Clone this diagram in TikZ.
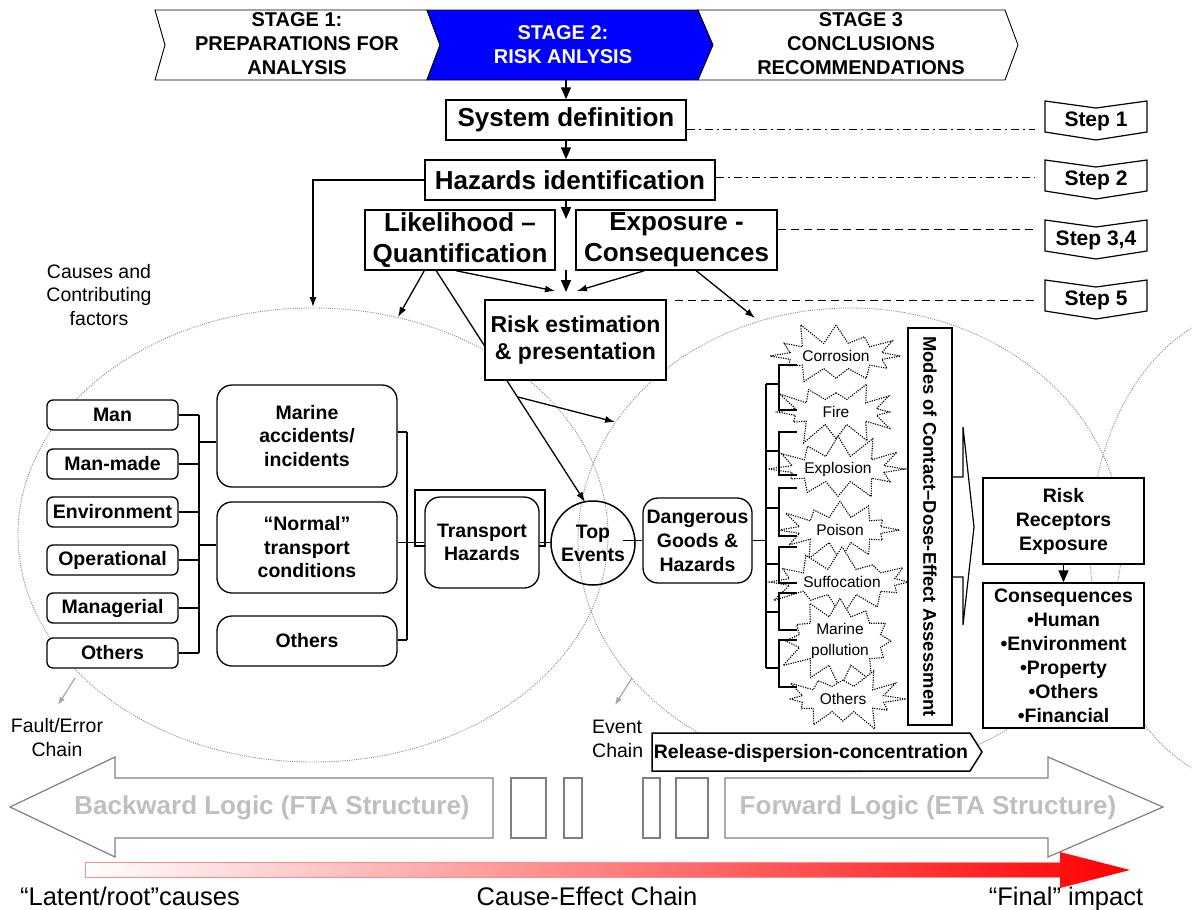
\documentclass[tikz,border=0pt]{standalone}
\usepackage{fontspec}
\setmainfont{Liberation Sans}
\usetikzlibrary{shapes.symbols,arrows.meta}
\begin{document}
\begin{tikzpicture}[x=1pt,y=-1pt,
 every node/.style={inner sep=0pt},
 stg/.style={draw, line width=0.9pt, fill=white},
 stgt/.style={font=\bfseries\fontsize{20}{24}\selectfont, align=center},
 bx/.style={draw, line width=1.5pt, fill=white, align=center, font=\bfseries\fontsize{26}{31}\selectfont},
 sbx/.style={draw, line width=1.3pt, fill=white, rounded corners=6pt, minimum width=131pt, minimum height=30pt, font=\bfseries\fontsize{19.5}{24}\selectfont},
 rbx/.style={draw, line width=1.3pt, fill=white, rounded corners=15pt, align=center, font=\bfseries\fontsize{19.5}{23.5}\selectfont},
 sqb/.style={draw, line width=1.5pt, fill=white, align=center, font=\bfseries\fontsize{19.5}{24}\selectfont},
 ln/.style={line width=1.2pt},
 marr/.style={line width=1.5pt, -{Triangle[length=12pt,width=10pt]}},
 arr/.style={line width=1.3pt, -{Latex[length=10pt,width=7pt]}},
 garr/.style={line width=1.2pt, black!35, -{Latex[length=8pt,width=6pt]}},
 ell/.style={black!45, line width=0.9pt, dash pattern=on 1pt off 1.2pt},
 stepshape/.style={draw, line width=1.2pt, fill=white},
 stept/.style={font=\bfseries\fontsize{21}{25}\selectfont},
 dd/.style={line width=1pt, dash pattern=on 8pt off 4pt on 2pt off 4pt},
 dsh/.style={line width=1pt, dash pattern=on 8pt off 5pt},
 star/.style={starburst, starburst points=12, starburst point height=24pt, draw, line width=1.1pt, dash pattern=on 1.2pt off 1.2pt, fill=white, minimum width=132pt, minimum height=74pt, align=center, font=\fontsize{15.5}{21}\selectfont},
 plain/.style={align=center, font=\fontsize{19.5}{23.5}\selectfont},
 logic/.style={font=\bfseries\fontsize{26}{30}\selectfont, text=black!25},
 logicshape/.style={draw=black!50, line width=1.2pt},
 bottom/.style={anchor=base, font=\fontsize{25.5}{30}\selectfont}
]
\useasboundingbox (0,0) rectangle (1192,910);
\fill[white] (0,0) rectangle (1192,910);

% background ellipses
\draw[ell] (313,535) ellipse [x radius=295pt, y radius=227pt];
\draw[ell] (850,540) ellipse [x radius=272pt, y radius=232pt];
\begin{scope}
\clip (0,0) rectangle (1192,910);
\draw[ell] (1255,548) ellipse [x radius=165pt, y radius=238pt];
\end{scope}

% stages
\draw[stg] (155,10) -- (427,10) -- (440,45) -- (427,80) -- (155,80) -- (165,45) -- cycle;
\draw[stg, fill=blue] (427,10) -- (698,10) -- (713,45) -- (698,80) -- (427,80) -- (440,45) -- cycle;
\draw[stg] (698,10) -- (1005,10) -- (1018,45) -- (1005,80) -- (698,80) -- (713,45) -- cycle;
\node[stgt] (st1) at (297,44) {STAGE 1:\\PREPARATIONS FOR\\ANALYSIS};
\node[stgt, text=white] (st2) at (563,45) {STAGE 2:\\RISK ANLYSIS};
\node[stgt] (st3) at (861,44) {STAGE 3\\CONCLUSIONS\\RECOMMENDATIONS};
\coordinate (s2b) at (566,80);

% main boxes
\node[bx, minimum width=240pt, minimum height=40pt] (sys) at (566,120) {System definition};
\node[bx, minimum width=290pt, minimum height=40pt] (haz) at (570,180) {Hazards identification};
\node[bx, minimum width=190pt, minimum height=60pt] (lik) at (460,240) {Likelihood –\\Quantification};
\node[bx, minimum width=201pt, minimum height=60pt] (exp) at (676.5,240) {Exposure -\\Consequences};

\draw[marr] (s2b) -- (sys.north);
\draw[marr] (sys.south) -- (sys.south |- haz.north);
\coordinate (m1) at (566,219);
\draw[marr] (haz.south -| m1) -- (m1);
\coordinate (m2) at (566,270);
\coordinate (m3) at (566,292);
\draw[marr] (m2) -- (m3);

% hazards to left ellipse
\coordinate (hl) at (313,180);
\coordinate (e0) at (313,307);
\draw[arr] (haz.west) -- (hl) -- (e0);

% arrows from likelihood / exposure
\coordinate (l1) at ([xshift=60pt]lik.south west);
\coordinate (l2) at ([xshift=72pt]lik.south west);
\coordinate (l3) at ([xshift=92pt]lik.south west);
\coordinate (x1) at ([xshift=69pt]exp.south west);
\coordinate (x2) at ([xshift=121pt]exp.south west);
\coordinate (e1) at (398,317);
\coordinate (c1) at (555,291);
\coordinate (c2) at (577,291);
\coordinate (e2) at (755,318);
\coordinate (tp) at (585,502);
\coordinate (br) at (518,397);
\coordinate (br2) at (615,422);
\draw[arr] (l1) -- (e1);
\draw[arr] (l3) -- (c1);
\draw[arr] (x1) -- (c2);
\draw[arr] (x2) -- (e2);
\draw[arr] (l2) -- (tp);
\draw[arr] (br) -- (br2);

\node[bx, minimum width=181pt, minimum height=80pt, font=\bfseries\fontsize{23}{27}\selectfont] (risk) at (575.5,340) {Risk estimation\\\& presentation};

% steps
\draw[stepshape] (1045,101) -- (1096,108) -- (1147,101) -- (1147,132) -- (1096,140) -- (1045,132) -- cycle;
\node[stept] (sp1) at (1096,121) {Step 1};
\draw[stepshape] (1045,160) -- (1096,167) -- (1147,160) -- (1147,191) -- (1096,199) -- (1045,191) -- cycle;
\node[stept] (sp2) at (1096,180) {Step 2};
\draw[stepshape] (1045,220) -- (1096,227) -- (1147,220) -- (1147,251) -- (1096,259) -- (1045,251) -- cycle;
\node[stept] (sp3) at (1096,240) {Step 3,4};
\draw[stepshape] (1045,280) -- (1096,287) -- (1147,280) -- (1147,311) -- (1096,319) -- (1045,311) -- cycle;
\node[stept] (sp4) at (1096,300) {Step 5};
\coordinate (d1) at (1035,129);
\coordinate (d2) at (1035,177);
\coordinate (d3) at (1035,229);
\coordinate (d4) at (1035,300);
\coordinate (d4s) at (675,300);
\draw[dd] (sys.east |- d1) -- (d1);
\draw[dd] (haz.east |- d2) -- (d2);
\draw[dsh] (exp.east |- d3) -- (d3);
\draw[dsh] (d4s) -- (d4);

% causes label
\node[plain] (causes) at (99,295) {Causes and\\Contributing\\factors};

% left small boxes
\node[sbx] (man) at (112.5,415) {Man};
\node[sbx] (mmade) at (112.5,464) {Man-made};
\node[sbx] (env) at (112.5,512) {Environment};
\node[sbx] (oper) at (112.5,560) {Operational};
\node[sbx] (mgr) at (112.5,608) {Managerial};
\node[sbx] (oth1) at (112.5,653) {Others};

% big rounded boxes
\node[rbx, minimum width=180pt, minimum height=102pt] (marine) at (307,436) {Marine\\accidents/\\incidents};
\node[rbx, minimum width=180pt, minimum height=91pt] (normal) at (307,547.5) {“Normal”\\transport\\conditions};
\node[rbx, minimum width=180pt, minimum height=50pt] (oth2) at (307,641) {Others};

% left bracket
\coordinate (lbx) at (199,0);
\draw[ln] (man.east -| lbx) -- (oth1.east -| lbx);
\foreach \n in {man,mmade,env,oper,mgr,oth1} \draw[ln] (\n.east) -- (\n.east -| lbx);
\coordinate (lm) at (199,442);
\coordinate (lnn) at (199,545);
\draw[ln] (lm) -- (lm -| marine.west);
\draw[ln] (lnn) -- (lnn -| normal.west);

% right bracket
\coordinate (rm) at (407,432);
\coordinate (rn) at (407,542.5);
\coordinate (ro) at (407,640);
\draw[ln] (rm) -- (ro);
\draw[ln] (rm -| marine.east) -- (rm);
\draw[ln] (rn -| normal.east) -- (rn);
\draw[ln] (ro -| oth2.east) -- (ro);

% transport hazards
\draw[ln] (415,490) rectangle (545,546);
\node[rbx, minimum width=114pt, minimum height=91pt] (trans) at (482,542.5) {Transport\\Hazards};
\draw[ln] (rn) -- (trans.west);
\draw[ln] (trans.east) -- (trans.east -| 551,0);

% top events
\node[draw, circle, line width=1.5pt, minimum size=84pt, align=center, font=\bfseries\fontsize{19.5}{23}\selectfont] (top) at (593,543) {Top\\Events};

% dangerous goods
\node[rbx, minimum width=109pt, minimum height=85pt, font=\bfseries\fontsize{19.5}{24}\selectfont] (dg) at (697.5,540.5) {Dangerous\\Goods \&\\Hazards};
\coordinate (tin) at (623,540.5);
\draw[ln] (tin) -- (dg.west);

% starbursts
\node[star, random starburst=11] (scor) at (836,356) {Corrosion};
\node[star, random starburst=23] (sfire) at (836,412) {Fire};
\node[star, random starburst=37] (sexp) at (838,469) {Explosion};
\node[star, random starburst=41] (spoi) at (840,530) {Poison};
\node[star, random starburst=53] (ssuf) at (842,582) {Suffocation};
\node[star, random starburst=67] (smar) at (840,641) {Marine\\pollution};
\node[star, random starburst=79] (soth) at (843,699) {Others};

% dg bracket
\coordinate (db) at (766,0);
\draw[ln] (dg.east) -- (dg.east -| db);
\draw[ln] (766,384) -- (766,668);
\foreach \y in {384,451,508,564,612,668} \draw[ln] (766,\y) -- (779,\y);
\foreach \a/\b in {365/410,432/475,488/536,547/583,593/630,640/687}
  \draw[ln] (797,\a) -- (779,\a) -- (779,\b) -- (797,\b);

% modes box
\node[bx, rotate=-90, minimum width=397pt, minimum height=44pt, font=\bfseries\fontsize{18.4}{22}\selectfont] (modes) at (930,526.5) {Modes of Contact–Dose-Effect Assessment};
\draw[ln] (952,477) -- (963,477) -- (963,427) -- (974,527) -- (963,625) -- (963,577) -- (952,577);

% risk receptors / consequences
\node[sqb, minimum width=161pt, minimum height=86pt] (rre) at (1063.5,521) {Risk\\Receptors\\Exposure};
\node[sqb, minimum width=161pt, minimum height=145pt] (cons) at (1063.5,655.5) {Consequences\\•Human\\•Environment\\•Property\\•Others\\•Financial};
\draw[marr] (rre.south) -- (cons.north);

% release
\draw[line width=1.5pt, fill=white] (652,733) -- (970,733) -- (982,752) -- (970,771) -- (652,771) -- cycle;
\node[font=\bfseries\fontsize{19.5}{24}\selectfont] (rel) at (811,753) {Release-dispersion-concentration};

% chain labels
\coordinate (ga1) at (75,678);
\coordinate (ga2) at (58,705);
\draw[garr] (ga1) -- (ga2);
\node[plain, font=\fontsize{19.5}{24}\selectfont] (fault) at (57,738) {Fault/Error\\Chain};
\coordinate (gb1) at (632,678);
\coordinate (gb2) at (615,705);
\draw[garr] (gb1) -- (gb2);
\node[align=left, anchor=west, font=\fontsize{19.5}{24}\selectfont] (event) at (592,739) {Event\\Chain};

% backward / forward logic
\draw[logicshape] (10,807) -- (115,757) -- (115,778) -- (493,778) -- (493,838) -- (115,838) -- (115,857) -- cycle;
\node[logic] (back) at (272,808) {Backward Logic (FTA Structure)};
\draw[logicshape] (511,778) rectangle (546,838);
\draw[logicshape] (564,778) rectangle (582,838);
\draw[logicshape] (643,778) rectangle (660,838);
\draw[logicshape] (676,778) rectangle (708,838);
\draw[logicshape] (725,778) -- (1048,778) -- (1048,757) -- (1163,807) -- (1048,857) -- (1048,838) -- (725,838) -- cycle;
\node[logic] (fwd) at (928,808) {Forward Logic (ETA Structure)};

% cause-effect arrow
\shade[left color=white, right color=red] (85,862) -- (1060,862) -- (1060,852) -- (1130,870) -- (1060,888) -- (1060,877) -- (85,877) -- cycle;
\draw[red!45, line width=1pt] (1060,862) -- (85,862) -- (85,877) -- (1060,877);

\node[bottom] (latent) at (130,905) {“Latent/root”causes};
\node[bottom] (ce) at (587,905) {Cause-Effect Chain};
\node[bottom] (final) at (1066,905) {“Final” impact};
\end{tikzpicture}
\end{document}
